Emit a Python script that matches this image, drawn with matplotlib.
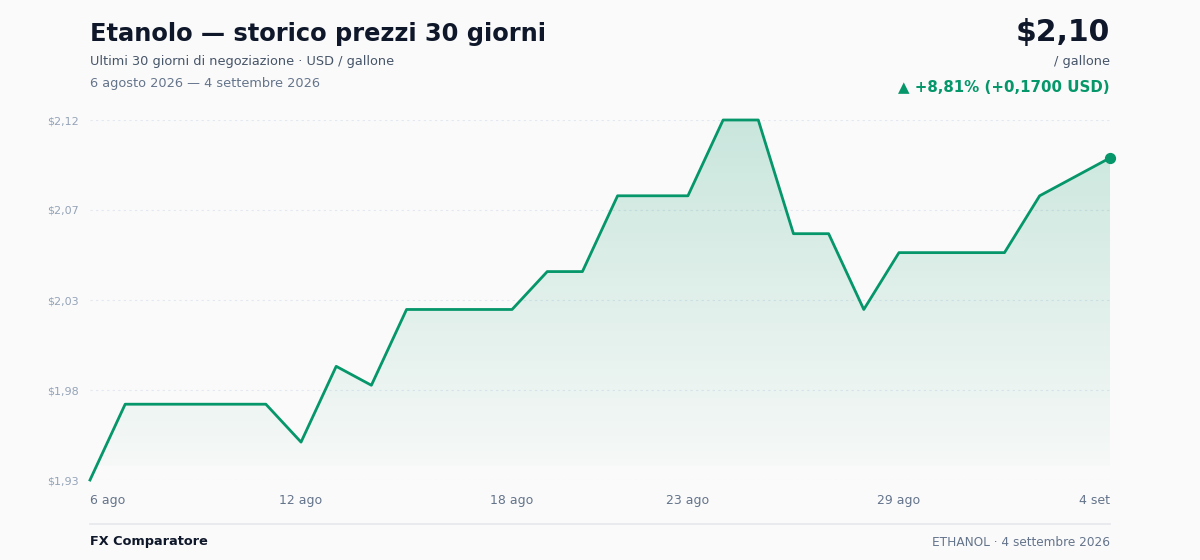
import matplotlib.pyplot as plt
import numpy as np
from matplotlib.colors import LinearSegmentedColormap
from matplotlib.patches import Polygon

plt.rcParams["font.family"] = ["DejaVu Sans"]

# data: daily ethanol price, 6 Aug - 4 Sep 2026
days = list(range(30))
prices = [1.93, 1.97, 1.97, 1.97, 1.97, 1.97, 1.95, 1.99, 1.98, 2.02,
          2.02, 2.02, 2.02, 2.04, 2.04, 2.08, 2.08, 2.08, 2.12, 2.12,
          2.06, 2.06, 2.02, 2.05, 2.05, 2.05, 2.05, 2.08, 2.09, 2.10]
tick_days = [0, 6, 12, 17, 23, 29]
tick_labels = ["6 ago", "12 ago", "18 ago", "23 ago", "29 ago", "4 set"]

green = "#059669"
bg = "#fafafa"

fig = plt.figure(figsize=(12, 5.6), dpi=100, facecolor=bg)
ax = fig.add_axes([90 / 1200, 80 / 560, 1020 / 1200, 360 / 560])
ax.set_facecolor(bg)

lo, hi = min(prices), max(prices)
ax.set_xlim(days[0], days[-1])
ax.set_ylim(lo, hi)

# gradient fill under the line
cmap = LinearSegmentedColormap.from_list("g", [(0.02, 0.59, 0.41, 0.02), (0.02, 0.59, 0.41, 0.2)])
grad = np.linspace(0, 1, 256).reshape(-1, 1)
bottom = lo + (hi - lo) * 0.04
im = ax.imshow(grad, cmap=cmap, aspect="auto", origin="lower",
               extent=[days[0], days[-1], bottom, hi], zorder=1)
poly = Polygon(list(zip(days, prices)) + [(days[-1], bottom), (days[0], bottom)],
               closed=True, facecolor="none", edgecolor="none")
ax.add_patch(poly)
im.set_clip_path(poly)

ax.plot(days, prices, color=green, lw=2, zorder=3, clip_on=False)
ax.scatter([days[-1]], [prices[-1]], s=50, color=green, zorder=4, clip_on=False)

# y grid / ticks
yt = np.linspace(lo, hi, 5)
ax.set_yticks(yt)
ax.set_yticklabels(["$" + f"{v + 1e-9:.2f}".replace(".", ",") for v in yt])
for v in yt:
    ax.axhline(v, color="#e2e8f0", lw=0.8, ls=(0, (2, 3)), zorder=0)
ax.set_xticks(tick_days)
ax.set_xticklabels(tick_labels)
xl = ax.get_xticklabels()
xl[0].set_ha("left")
xl[-1].set_ha("right")
ax.tick_params(axis="y", length=0, labelsize=8, labelcolor="#94a3b8", pad=8)
ax.tick_params(axis="x", length=0, labelsize=9, labelcolor="#64748b", pad=10)
for s in ax.spines.values():
    s.set_visible(False)

# header
fig.text(90 / 1200, 1 - 34 / 560, "Etanolo — storico prezzi 30 giorni", fontsize=17.4,
         fontweight="bold", color="#0f172a", va="center")
fig.text(90 / 1200, 1 - 61 / 560, "Ultimi 30 giorni di negoziazione · USD / gallone",
         fontsize=9.3, color="#475569", va="center")
fig.text(90 / 1200, 1 - 83 / 560, "6 agosto 2026 — 4 settembre 2026",
         fontsize=9.3, color="#64748b", va="center")
fig.text(1110 / 1200, 1 - 33 / 560, "$2,10", fontsize=21.5, fontweight="bold",
         color="#0f172a", va="center", ha="right")
fig.text(1110 / 1200, 1 - 62 / 560, "/ gallone", fontsize=9.3, color="#475569",
         va="center", ha="right")
fig.text(1110 / 1200, 1 - 87 / 560, "▲ +8,81% (+0,1700 USD)", fontsize=10.8,
         fontweight="bold", color=green, va="center", ha="right")

# footer
fig.add_artist(plt.Line2D([90 / 1200, 1110 / 1200], [1 - 524 / 560, 1 - 524 / 560],
                          color="#e5e7eb", lw=1.2))
fig.text(90 / 1200, 1 - 542 / 560, "FX Comparatore", fontsize=9.3, fontweight="bold",
         color="#0f172a", va="center")
fig.text(1110 / 1200, 1 - 542 / 560, "ETHANOL · 4 settembre 2026", fontsize=8.7,
         color="#64748b", va="center", ha="right")

fig.savefig("out.png", dpi=100, facecolor=bg)
